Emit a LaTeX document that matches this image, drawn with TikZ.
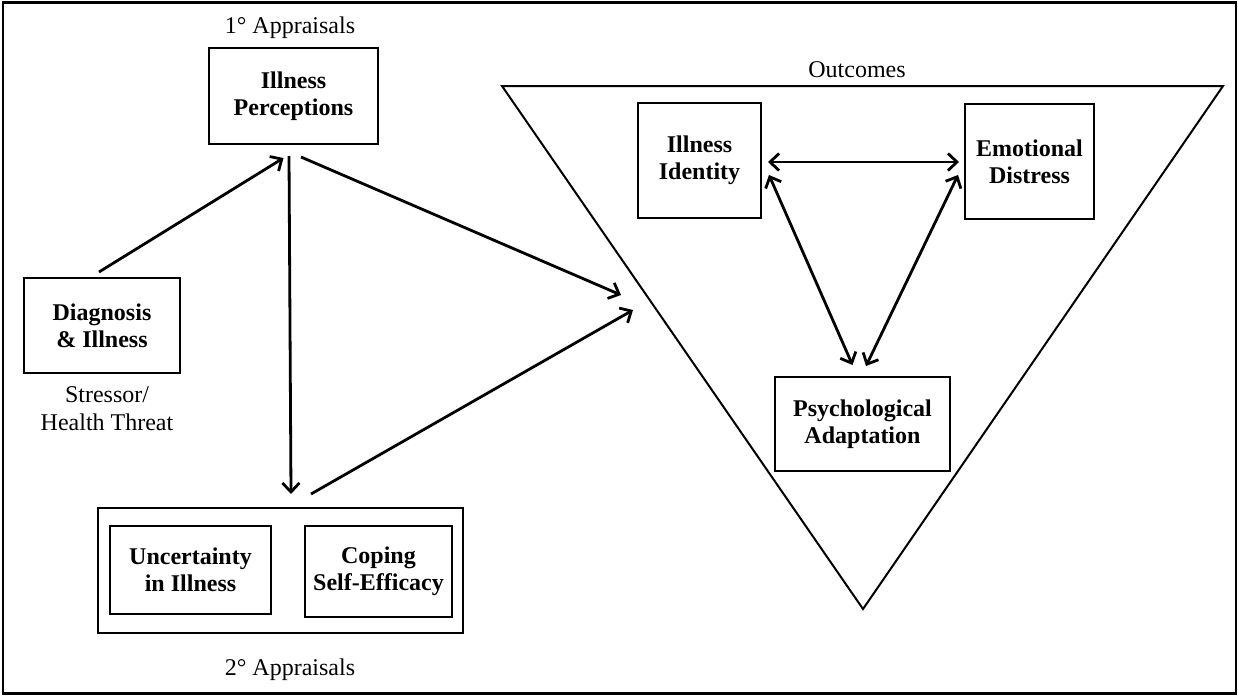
\documentclass[tikz,border=0pt]{standalone}
\usepackage{fontspec}
\setmainfont{Liberation Serif}
\usetikzlibrary{arrows.meta,calc}
\begin{document}
\begin{tikzpicture}[x=1pt,y=-1pt,
  box/.style={draw,line width=2pt,inner sep=0pt,align=center,font=\fontsize{24}{27}\selectfont\bfseries},
  lbl/.style={inner sep=0pt,align=center,font=\fontsize{24}{28}\selectfont},
  tip/.tip={Straight Barb[length=9pt,width=17pt]},
  conn/.style={line width=2.8pt,-tip},
  dconn/.style={line width=2.8pt,tip-tip}]
\useasboundingbox (0,0) rectangle (1239,696);
\draw[line width=2.8pt] (3,2.5) rectangle (1236,693.5);
% triangle
\draw[line width=2pt,line join=miter] (502,86) -- (1223,86) -- (863,609) -- cycle;
% nodes
\node[box,minimum width=169pt,minimum height=96pt] (ip) at (293.5,96) {Illness\\Perceptions};
\node[box,minimum width=156pt,minimum height=95pt] (diag) at (102,325.5) {Diagnosis\\\& Illness};
\node[box,minimum width=365pt,minimum height=125pt] (two) at (280.5,570.5) {};
\node[box,minimum width=161pt,minimum height=88pt] (unc) at (190.5,570) {Uncertainty\\in Illness};
\node[box,minimum width=147pt,minimum height=91pt] (cop) at (378.5,571.5) {Coping\\Self-Efficacy};
\node[box,minimum width=123pt,minimum height=115pt] (id) at (699.5,160.5) {Illness\\Identity};
\node[box,minimum width=129pt,minimum height=115pt] (ed) at (1029.5,161.5) {Emotional\\Distress};
\node[box,minimum width=175pt,minimum height=94pt] (pa) at (862.5,424) {Psychological\\Adaptation};
% labels
\node[lbl] (lab1) at (290,28) {1° Appraisals};
\node[lbl] (lab2) at (290,670) {2° Appraisals};
\node[lbl] (lab3) at (107,409) {Stressor/\\Health Threat};
\node[lbl] (lab4) at (857,70) {Outcomes};
% free ends inside outcomes triangle
\coordinate (inA) at (621,295);
\coordinate (inB) at (633,310);
% connectors
\draw[conn] ($(diag.north)+(-3,-5)$) -- ($(ip.south)+(-10,13)$);
\draw[conn] ($(ip.south)+(-4.5,11)$) -- ($(two.north)+(10.5,-13)$);
\draw[conn] ($(ip.south)+(7.5,12)$) -- (inA);
\draw[conn] ($(two.north)+(30.5,-13)$) -- (inB);
\draw[dconn] ($(id.east)+(6,1.5)$) -- ($(ed.west)+(-5,0.5)$);
\draw[dconn] ($(id.east)+(7,14.5)$) -- ($(pa.north)+(-10,-11)$);
\draw[dconn] ($(ed.west)+(-6,13.5)$) -- ($(pa.north)+(3.5,-10)$);
\end{tikzpicture}
\end{document}
